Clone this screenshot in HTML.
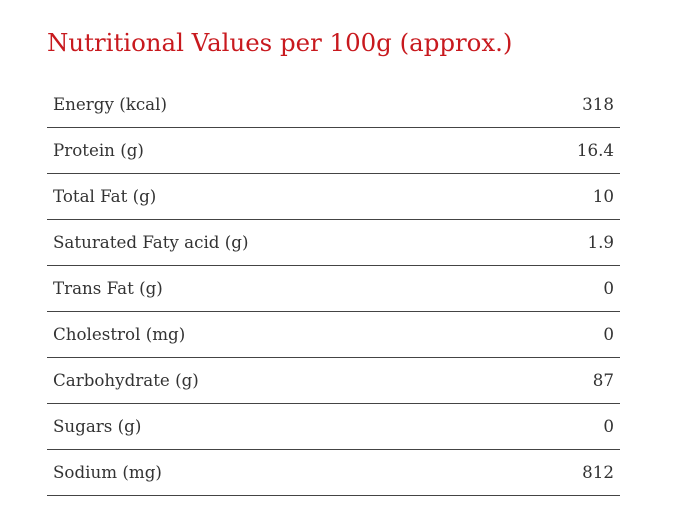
<!DOCTYPE html>
<html><head><meta charset="utf-8"><style>
body{margin:0;background:#fff;width:683px;height:522px;overflow:hidden;font-family:"DejaVu Serif",serif}
h1{position:absolute;left:47px;top:26px;margin:0;font-weight:normal;font-size:24.45px;color:#c8191e;line-height:34px;white-space:nowrap}
.row{position:absolute;left:47px;width:573px;height:45px;border-bottom:1px solid #444;color:#333;font-size:16.7px;line-height:44px}
.row span{position:absolute;left:6px}
.row b{position:absolute;right:6px;font-weight:normal}
</style></head><body>
<h1>Nutritional Values per 100g (approx.)</h1>
<div class="row" style="top:82px"><span>Energy (kcal)</span><b>318</b></div>
<div class="row" style="top:128px"><span>Protein (g)</span><b>16.4</b></div>
<div class="row" style="top:174px"><span>Total Fat (g)</span><b>10</b></div>
<div class="row" style="top:220px"><span>Saturated Faty acid (g)</span><b>1.9</b></div>
<div class="row" style="top:266px"><span>Trans Fat (g)</span><b>0</b></div>
<div class="row" style="top:312px"><span>Cholestrol (mg)</span><b>0</b></div>
<div class="row" style="top:358px"><span>Carbohydrate (g)</span><b>87</b></div>
<div class="row" style="top:404px"><span>Sugars (g)</span><b>0</b></div>
<div class="row" style="top:450px"><span>Sodium (mg)</span><b>812</b></div>
</body></html>
